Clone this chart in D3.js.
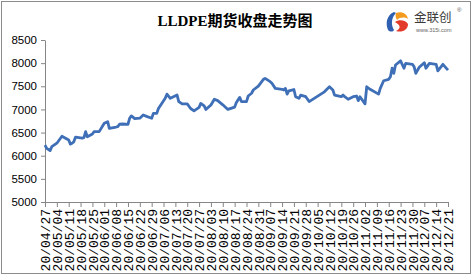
<!DOCTYPE html>
<html>
<head>
<meta charset="utf-8">
<script src="https://cdn.jsdelivr.net/npm/d3@7"></script>
<style>
  body { margin: 0; background: #fff; }
  svg { display: block; }
</style>
</head>
<body>
<div id="chart"></div>
<script>
// chart data (trading dates, close price)
const dates = [
  "2020-04-27","2020-04-28","2020-04-30","2020-05-01","2020-05-04","2020-05-07","2020-05-11","2020-05-12",
  "2020-05-13","2020-05-14","2020-05-15","2020-05-19","2020-05-20","2020-05-21","2020-05-22","2020-05-25",
  "2020-05-26","2020-05-29","2020-06-01","2020-06-03","2020-06-04","2020-06-08","2020-06-09","2020-06-10",
  "2020-06-12","2020-06-15","2020-06-16","2020-06-17","2020-06-19","2020-06-22","2020-06-24","2020-06-26",
  "2020-06-29","2020-06-30","2020-07-02","2020-07-03","2020-07-07","2020-07-08","2020-07-10","2020-07-14",
  "2020-07-15","2020-07-17","2020-07-20","2020-07-22","2020-07-24","2020-07-27","2020-07-28","2020-07-30",
  "2020-07-31","2020-08-03","2020-08-05","2020-08-07","2020-08-10","2020-08-13","2020-08-17","2020-08-18",
  "2020-08-20","2020-08-21","2020-08-24","2020-08-25","2020-08-27","2020-08-28","2020-08-31","2020-09-03",
  "2020-09-04","2020-09-07","2020-09-08","2020-09-10","2020-09-14","2020-09-15","2020-09-16","2020-09-17",
  "2020-09-18","2020-09-21","2020-09-22","2020-09-24","2020-09-25","2020-09-28","2020-09-30","2020-10-09",
  "2020-10-12","2020-10-14","2020-10-15","2020-10-19","2020-10-20","2020-10-21","2020-10-23","2020-10-26",
  "2020-10-28","2020-10-29","2020-10-30","2020-11-02","2020-11-03","2020-11-05","2020-11-10","2020-11-11",
  "2020-11-13","2020-11-16","2020-11-17","2020-11-18","2020-11-19","2020-11-20","2020-11-23","2020-11-25",
  "2020-11-26","2020-11-30","2020-12-01","2020-12-02","2020-12-04","2020-12-07","2020-12-08","2020-12-10",
  "2020-12-14","2020-12-15","2020-12-18","2020-12-21"
];
const closes = [
  6230,6160,6110,6195,6270,6420,6340,6250,
  6270,6300,6400,6380,6390,6520,6410,6470,
  6520,6520,6700,6735,6590,6620,6630,6680,
  6685,6675,6810,6860,6800,6810,6880,6850,
  6810,6915,6915,7020,7240,7330,7240,7310,
  7170,7120,7120,7020,6970,7045,7130,7075,
  7000,7095,7220,7190,7100,7000,7050,7150,
  7260,7170,7170,7290,7350,7420,7505,7650,
  7670,7600,7565,7455,7435,7420,7455,7330,
  7400,7430,7275,7240,7310,7275,7170,7380,
  7490,7420,7310,7275,7310,7275,7220,7275,
  7290,7190,7275,7120,7490,7435,7330,7455,
  7620,7650,7705,7890,7780,7960,8050,7890,
  7995,7975,7920,7780,7910,8010,7890,7995,
  7975,7835,7975,7850
];
const yTicks = [5000,5500,6000,6500,7000,7500,8000,8500];
const titleText = "LLDPE期货收盘走势图";

const W = 472, H = 276;
const m = {left: 45, right: 24, top: 40, bottom: 74};
const parse = d3.timeParse("%Y-%m-%d");
const fmt = d3.timeFormat("%y/%m/%d");

const data = dates.map((d, i) => ({date: parse(d), v: closes[i]}));

const svg = d3.select("#chart").append("svg")
  .attr("width", W).attr("height", H);

// outer frame
svg.append("rect")
  .attr("x", 1.5).attr("y", 1.5)
  .attr("width", W - 3).attr("height", H - 4)
  .attr("fill", "#fff").attr("stroke", "#8c8c8c");

// title
svg.append("text")
  .attr("x", 235).attr("y", 26)
  .attr("text-anchor", "middle")
  .style("font-family", "'Liberation Serif', 'Noto Sans CJK SC', serif")
  .style("font-weight", "bold")
  .style("font-size", "15px")
  .text(titleText);

// scales
const x = d3.scaleTime()
  .domain([parse("2020-04-27"), parse("2020-12-21")])
  .range([m.left, W - m.right]);
const y = d3.scaleLinear()
  .domain([5000, 8500])
  .range([H - m.bottom, m.top]);

// y axis
const yAxis = svg.append("g")
  .attr("transform", `translate(${m.left},0)`)
  .call(d3.axisLeft(y).tickValues(yTicks).tickFormat(d3.format("d"))
    .tickSize(4).tickSizeOuter(0).tickPadding(4));
yAxis.selectAll("text")
  .style("font-family", "'Liberation Sans', Arial, sans-serif")
  .style("font-size", "11.5px")
  .attr("fill", "#000");

// x axis: weekly ticks
const xTicks = d3.timeMonday.range(parse("2020-04-27"), d3.timeDay.offset(parse("2020-12-21"), 1));
const xAxis = svg.append("g")
  .attr("transform", `translate(0,${H - m.bottom})`)
  .call(d3.axisBottom(x).tickValues(xTicks).tickSize(5).tickSizeOuter(0).tickFormat(fmt));
xAxis.selectAll("text")
  .attr("transform", "rotate(-90)")
  .attr("text-anchor", "end")
  .attr("x", -7).attr("y", 0).attr("dy", "0.36em")
  .style("font-family", "'Liberation Mono', 'DejaVu Sans Mono', monospace")
  .style("font-size", "13px")
  .attr("fill", "#000");

svg.selectAll(".domain, .tick line").attr("stroke", "#868686");

// price line
const line = d3.line()
  .x(d => x(d.date))
  .y(d => y(d.v));
svg.append("path")
  .datum(data)
  .attr("fill", "none")
  .attr("stroke", "#3f6fb6")
  .attr("stroke-width", 2.8)
  .attr("stroke-linejoin", "round")
  .attr("d", line);

// logo, top right
const logo = svg.append("g").attr("transform", "translate(385,11)");
logo.append("path")
  .attr("d", "M9,1 C2,4 0,12 3,19 C5,21 8,21 9,19 C6,14 6,7 11,2 Z")
  .attr("fill", "#2f5fb0");
logo.append("path")
  .attr("d", "M11,2 C16,0 22,2 23,8 C20,6 15,6 12,9 C11,7 10,5 11,2 Z")
  .attr("fill", "#f39a1f");
logo.append("path")
  .attr("d", "M10,11 C14,8 21,9 23,13 C23,19 17,22 11,20 C15,18 17,15 10,11 Z")
  .attr("fill", "#e23b2a");
svg.append("text")
  .attr("x", 414).attr("y", 22)
  .style("font-family", "'Noto Sans CJK SC', sans-serif")
  .style("font-size", "12.5px")
  .attr("fill", "#3a3a3a")
  .text("金联创");
svg.append("text")
  .attr("x", 457).attr("y", 12)
  .style("font-family", "'Liberation Sans', sans-serif")
  .style("font-size", "6px")
  .attr("fill", "#555")
  .text("®");
svg.append("text")
  .attr("x", 416).attr("y", 31.5)
  .style("font-family", "'Liberation Sans', sans-serif")
  .style("font-size", "5.5px")
  .attr("fill", "#666")
  .text("www.315i.com");
</script>
</body>
</html>
